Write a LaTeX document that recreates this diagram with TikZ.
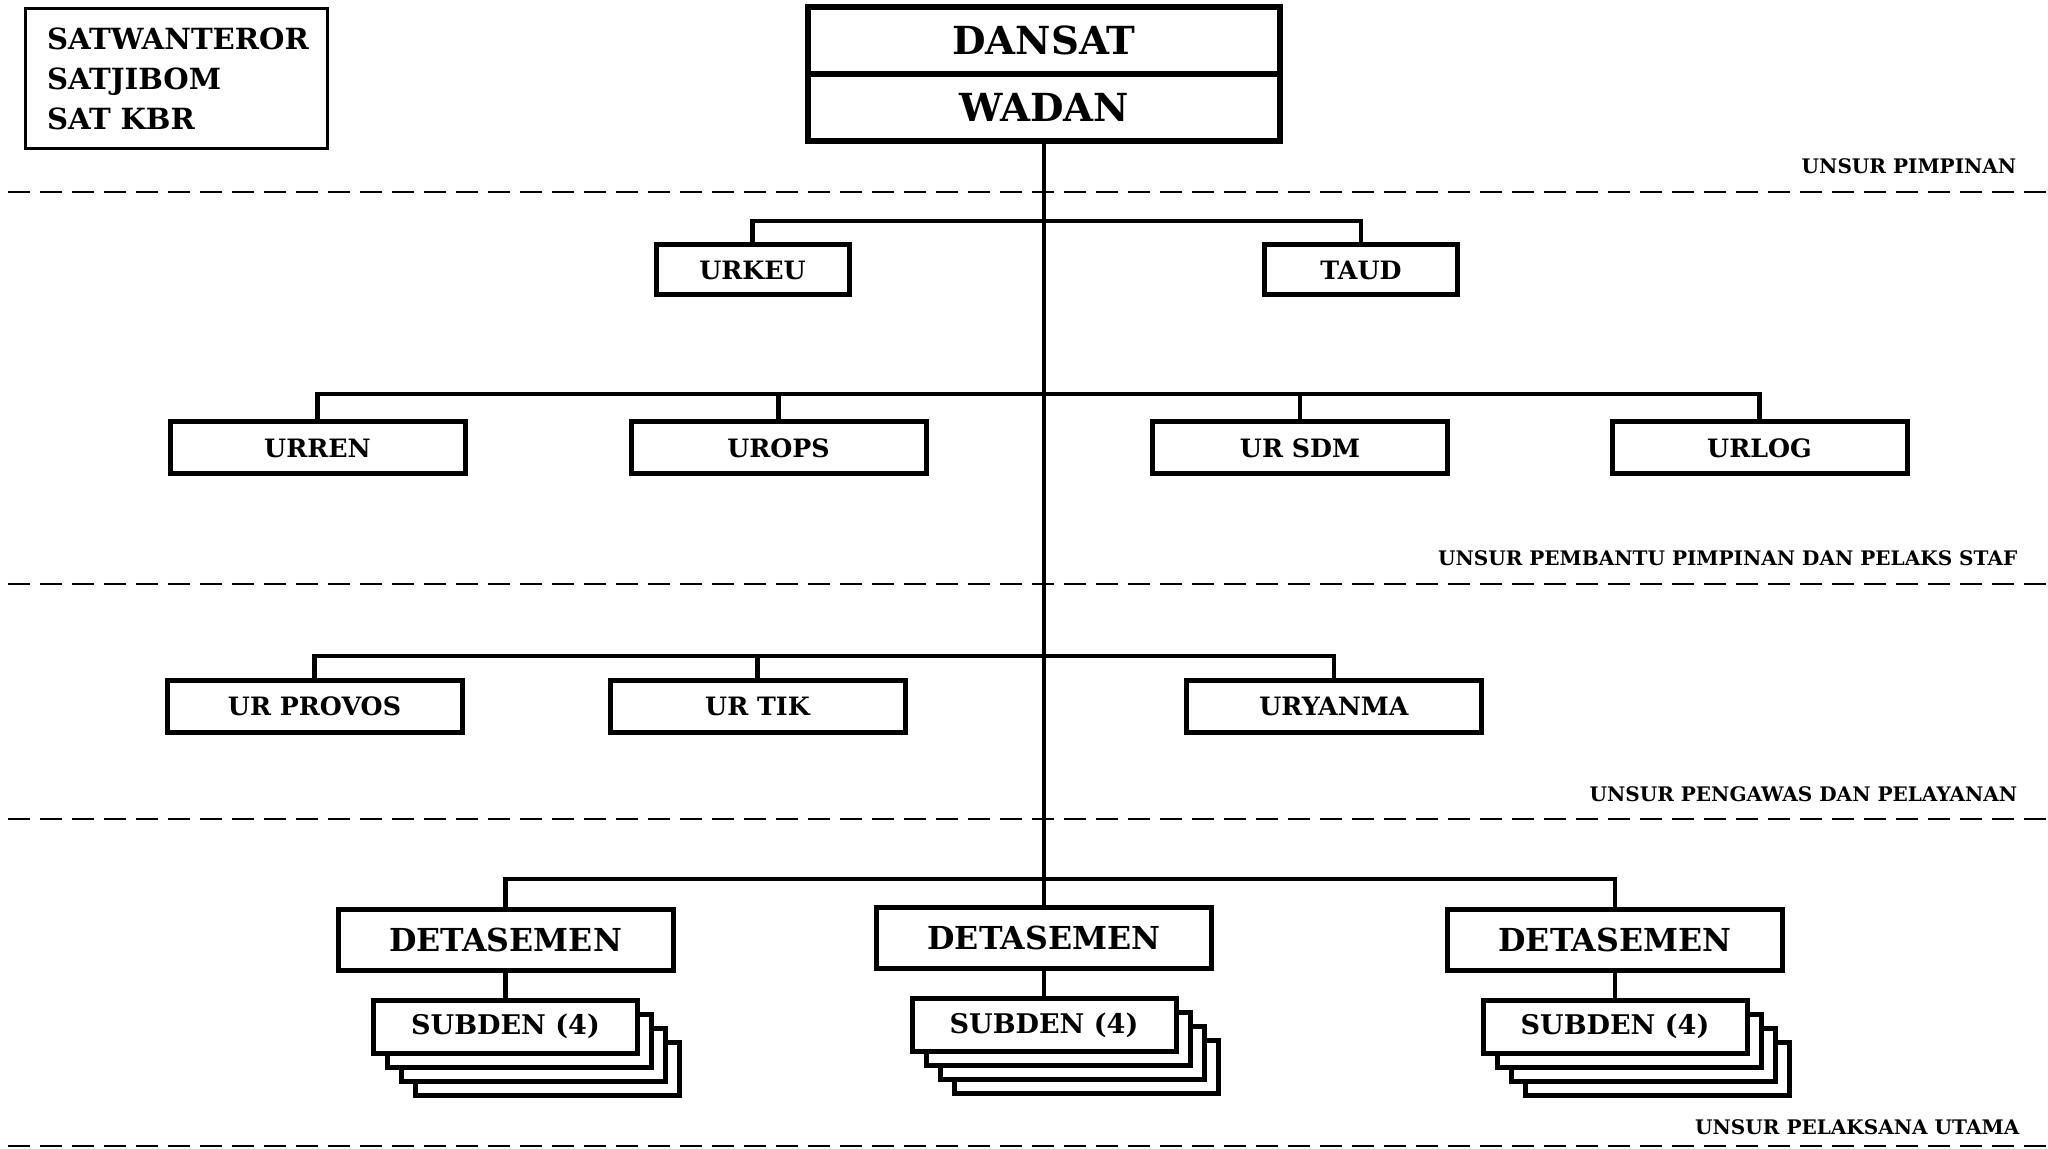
\documentclass[tikz,border=0pt]{standalone}
\usepackage{fontspec}
\setmainfont{DejaVu Serif}
\usepackage{tikz}
\usetikzlibrary{positioning}

\begin{document}
\begin{tikzpicture}[box/.style={rectangle, draw, line width=0.05cm, fill=white, inner sep=0pt, font=\bfseries\fontsize{7.2}{8}\selectfont},
    small/.style={box, minimum width=1.93cm, minimum height=0.50cm},
    wide/.style={box, minimum width=2.95cm, minimum height=0.52cm},
    det/.style={box, minimum width=3.35cm, minimum height=0.61cm, font=\bfseries\fontsize{9}{10}\selectfont},
    sub/.style={box, minimum width=2.64cm, minimum height=0.53cm, font=\bfseries\fontsize{7.7}{9}\selectfont},
    head/.style={box, minimum width=4.72cm, minimum height=0.67cm, outer sep=0pt, line width=0.055cm, font=\bfseries\fontsize{11}{13}\selectfont},
    level/.style={anchor=base east, inner sep=0pt, font=\bfseries\fontsize{5.7}{6}\selectfont},
    sep/.style={dash pattern=on 0.22cm off 0.10cm, line width=0.025cm},
    link/.style={line width=0.045cm}]
    \useasboundingbox (0,0) rectangle (20.48,-11.49);

    % legend
    \node [draw, line width=0.03cm, text width=2.59cm, align=left, inner xsep=0.21cm, minimum height=1.40cm, font=\bfseries\fontsize{8.3}{11.4}\selectfont] (legend) at (1.765,-0.79) {SATWANTEROR\\SATJIBOM\\SAT KBR};

    % levels
    \begin{scope}[sep]
      \draw (0.08,-1.92) -- (20.48,-1.92);
      \draw (0.08,-5.84) -- (20.48,-5.84);
      \draw (0.08,-8.19) -- (20.48,-8.19);
      \draw (0.08,-11.46) -- (20.48,-11.46);
    \end{scope}
    \begin{scope}[every node/.style={level}]
      \node (lvl1) at (20.17,-1.74) {UNSUR PIMPINAN};
      \node (lvl2) at (20.18,-5.66) {UNSUR PEMBANTU PIMPINAN DAN PELAKS STAF};
      \node (lvl3) at (20.18,-8.01) {UNSUR PENGAWAS DAN PELAYANAN};
      \node (lvl4) at (20.20,-11.34) {UNSUR PELAKSANA UTAMA};
    \end{scope}

    % units
    \node [head] (dansat) at (10.44,-0.405) {DANSAT};
    \node [head, below=0pt of dansat] (wadan) {WADAN};

    \begin{scope}[every node/.style={small}]
      \node (urkeu) at (7.525,-2.70) {URKEU};
      \node (taud) at (13.61,-2.70) {TAUD};
    \end{scope}
    \begin{scope}[every node/.style={wide}]
      \node (urren) at (3.175,-4.48) {URREN};
      \node (urops) at (7.785,-4.48) {UROPS};
      \node (ursdm) at (13.00,-4.48) {UR SDM};
      \node (urlog) at (17.595,-4.48) {URLOG};
      \node (urprovos) at (3.145,-7.065) {UR PROVOS};
      \node (urtik) at (7.575,-7.065) {UR TIK};
      \node (uryanma) at (13.34,-7.065) {URYANMA};
    \end{scope}
    \begin{scope}[every node/.style={det}]
      \node (d1) at (5.055,-9.395) {DETASEMEN};
      \node (d2) at (10.44,-9.38) {DETASEMEN};
      \node (d3) at (16.15,-9.395) {DETASEMEN};
    \end{scope}
    \foreach \d in {1,2,3} {
      \foreach \k in {3,2,1}
        \node [sub, below=0.25cm of d\d, xshift=\k*0.14cm, yshift=-\k*0.14cm] (s\d-\k) {};
      \node [sub, below=0.25cm of d\d] (s\d) {SUBDEN (4)};
    }

    % lines
    \coordinate (b1) at (10.44,-2.21);
    \coordinate (b2) at (10.44,-3.94);
    \coordinate (b3) at (10.44,-6.56);
    \coordinate (b4) at (10.44,-8.79);
    \begin{scope}[link]
      \draw (wadan) -- (d2);
      \draw (urkeu.north) |- (b1) -| (taud.north);
      \draw (urren.north) |- (b2) -| (urlog.north);
      \draw (urops.north) -- (urops.north |- b2);
      \draw (ursdm.north) -- (ursdm.north |- b2);
      \draw (urprovos.north) |- (b3) -| (uryanma.north);
      \draw (urtik.north) -- (urtik.north |- b3);
      \draw (d1.north) |- (b4) -| (d3.north);
      \foreach \d in {1,2,3}
        \draw (d\d) -- (s\d);
    \end{scope}
  \end{tikzpicture}
\end{document}
